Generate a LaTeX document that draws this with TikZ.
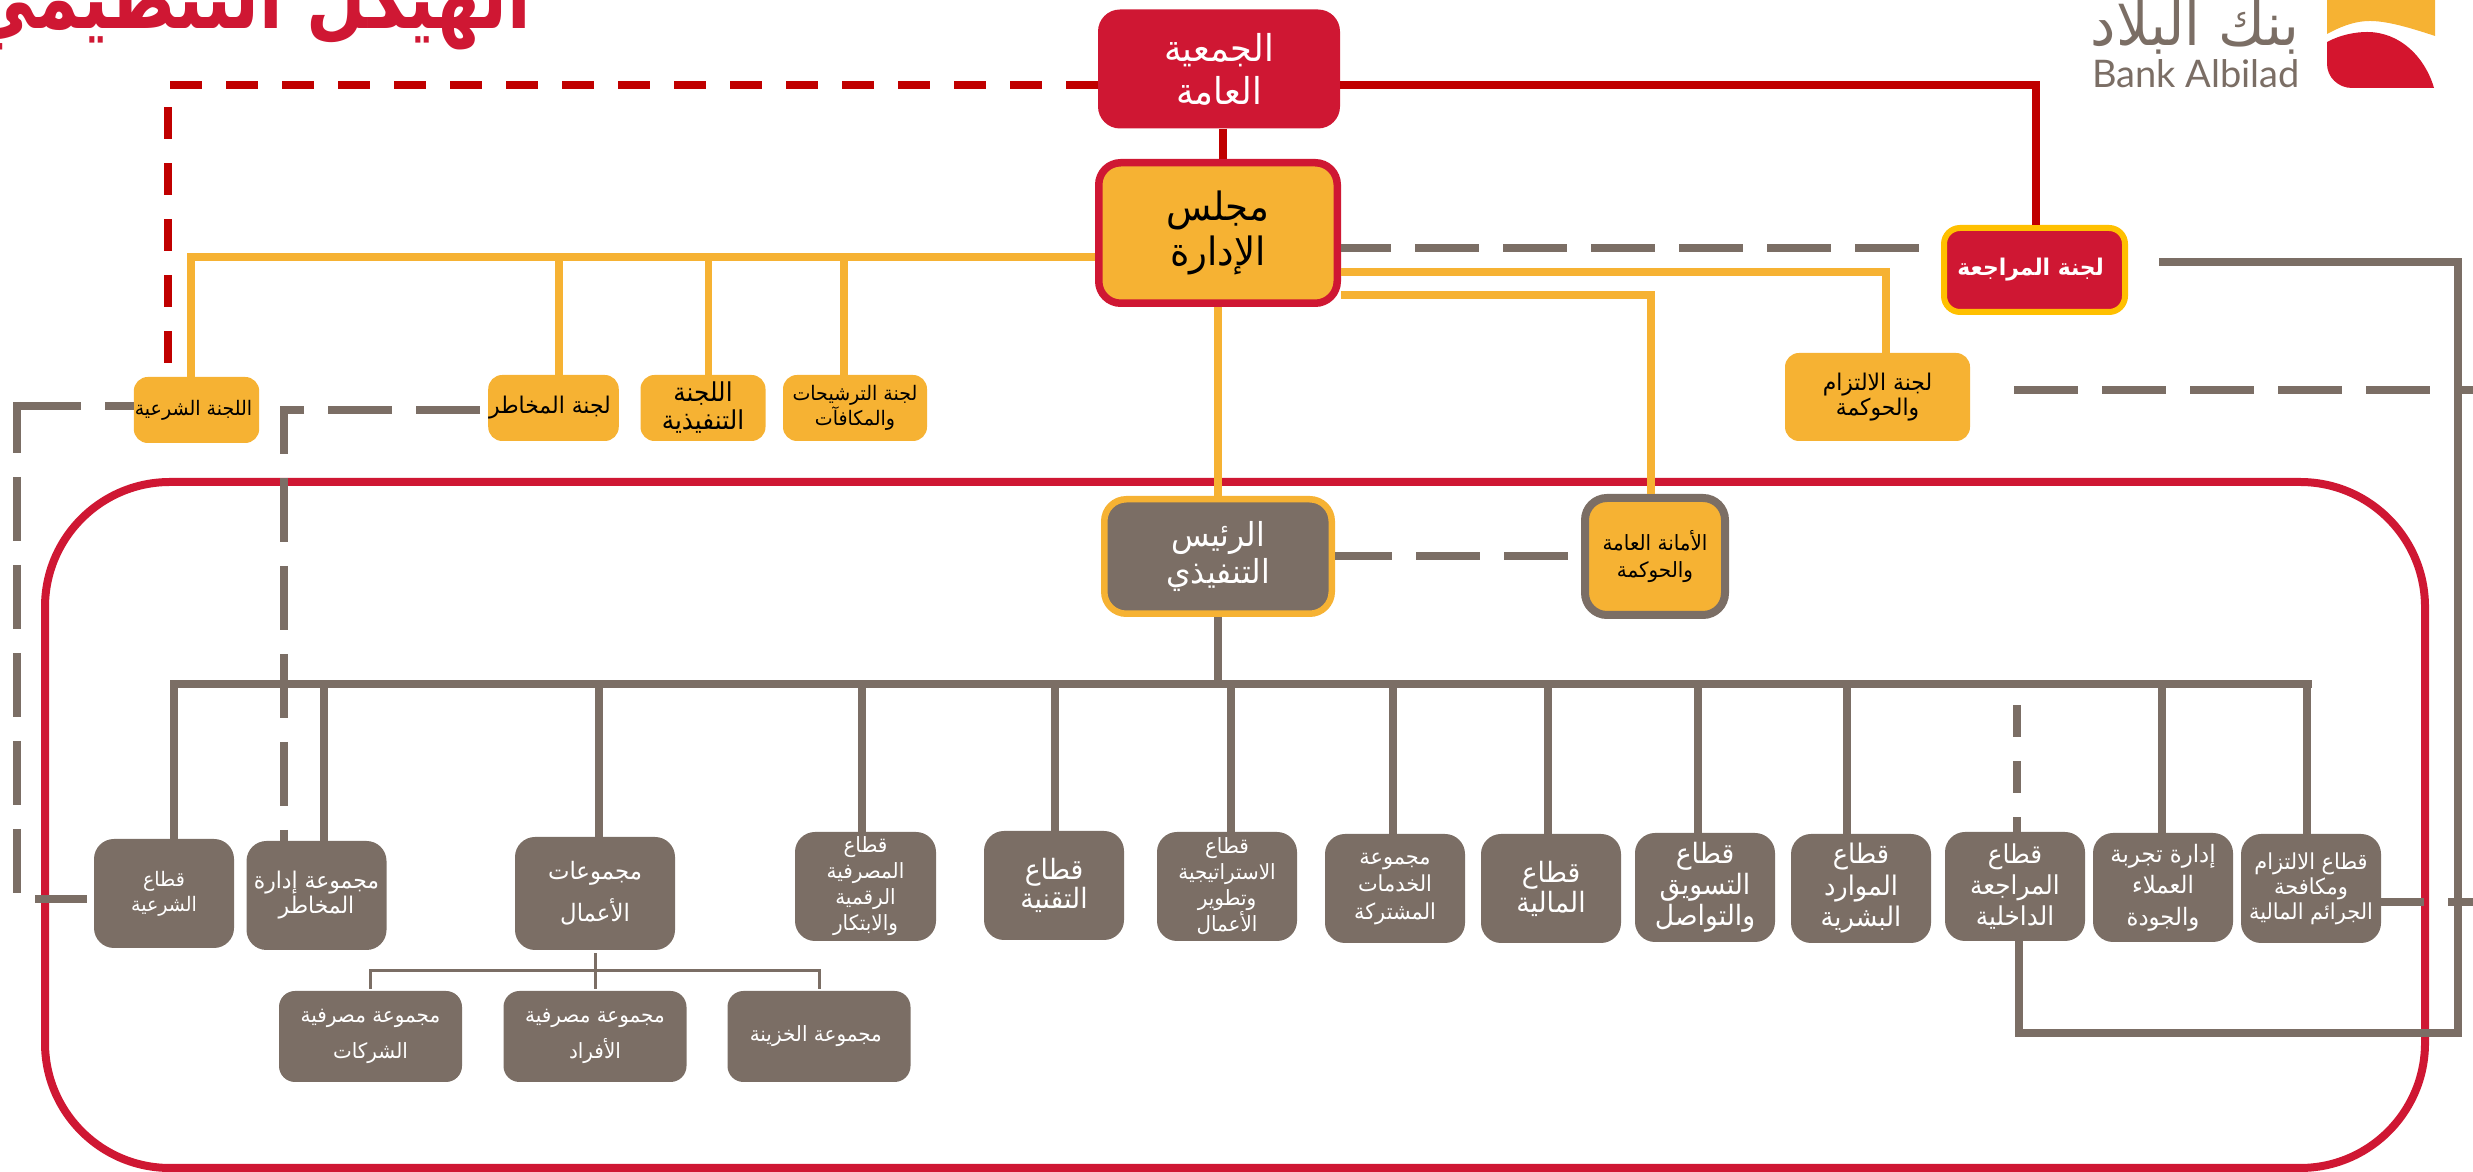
\documentclass[tikz,border=0pt]{standalone}
\usepackage{fontspec}
\setmainfont{Lato}
\newfontfamily\arabicfont[Script=Arabic,FakeStretch=0.95]{DejaVu Sans}
\newfontfamily\titlefont[Script=Arabic,FakeStretch=0.78]{DejaVu Sans}
\TeXXeTstate=1
\usetikzlibrary{positioning,calc}
\definecolor{bankgrey}{HTML}{7B6E65}
\definecolor{bankyellow}{HTML}{F6B233}
\definecolor{bankred}{HTML}{CF1733}
\definecolor{linered}{HTML}{C00000}
\definecolor{auditgold}{HTML}{FFC000}
\newcommand{\artext}[1]{\beginR #1\endR}
\newcommand{\arsize}[2]{\fontsize{#1}{#2}\arabicfont}
\tikzset{
    redstate/.style={
           rectangle,
           rounded corners=22pt,
           fill=bankred,
           text=white,
           inner sep=2pt,
           text centered,
           align=center,
           },
    boardstate/.style={
           rectangle,
           rounded corners=22pt,
           fill=bankyellow,
           draw=bankred,
           line width=7.5pt,
           inner sep=2pt,
           align=center,
           },
    auditstate/.style={
           rectangle,
           rounded corners=16pt,
           fill=bankred,
           draw=auditgold,
           line width=6pt,
           text=white,
           inner sep=2pt,
           align=center,
           },
    ceostate/.style={
           rectangle,
           rounded corners=22pt,
           fill=bankgrey,
           draw=bankyellow,
           line width=6.5pt,
           text=white,
           inner sep=2pt,
           align=center,
           },
    govstate/.style={
           rectangle,
           rounded corners=22pt,
           fill=bankyellow,
           draw=bankgrey,
           line width=8pt,
           inner sep=2pt,
           align=center,
           },
    comstate/.style={
           rectangle,
           rounded corners=14pt,
           fill=bankyellow,
           minimum height=66pt,
           minimum width=125pt,
           inner sep=1pt,
           align=center,
           },
    secstate/.style={
           rectangle,
           rounded corners=20pt,
           fill=bankgrey,
           text=white,
           minimum height=109pt,
           minimum width=140pt,
           inner sep=1pt,
           align=center,
           },
    substate/.style={
           rectangle,
           rounded corners=16pt,
           fill=bankgrey,
           text=white,
           minimum height=91pt,
           minimum width=183pt,
           inner sep=1pt,
           align=center,
           },
    greyline/.style={draw=bankgrey, line width=8pt},
    thinline/.style={draw=bankgrey, line width=3pt},
    yellowline/.style={draw=bankyellow, line width=7.5pt},
    redline/.style={draw=linered, line width=8pt},
    greydash/.style={greyline, dash pattern=on 64pt off 24pt},
}

\begin{document}
\begin{tikzpicture}[x=1pt,y=1pt]

 \useasboundingbox (0,0) rectangle (2473,1172);

 % Outer frame
 \node[draw=bankred, line width=8pt, rounded corners=125pt,
 minimum width=2380pt, minimum height=686pt,
 inner sep=0pt, outer sep=0pt] (FRAME) at (1235,347) {};

 % Title
 \node[anchor=base east, text=bankred, inner sep=0pt,
 font=\fontsize{88}{88}\titlefont\bfseries] (TITLE) at (531,1143)
 {\artext{الهيكل التنظيمي}};

 % Logo
 \fill[bankyellow] (2327,1172) -- (2435,1172) -- (2435,1136)
 .. controls (2405,1146) and (2385,1151) .. (2370,1151)
 .. controls (2353,1151) and (2338,1144) .. (2327,1138) -- cycle;
 \fill[bankred!90!red] (2327,1130) .. controls (2340,1137) and (2355,1140) .. (2367,1140)
 .. controls (2400,1140) and (2425,1115) .. (2434,1084) -- (2352,1084)
 .. controls (2338,1084) and (2327,1095) .. (2327,1108) -- cycle;
 \node[anchor=base east, text=bankgrey, inner sep=0pt,
 font=\fontsize{38}{38}\selectfont] (LOGOEN) at (2300,1084) {Bank Albilad};
 \node[anchor=base east, text=bankgrey, inner sep=0pt,
 font=\fontsize{60}{60}\arabicfont] (LOGOAR) at (2300,1126) {\artext{بنك البلاد}};

 % General assembly and board
 \node[redstate,
 minimum width=242pt, minimum height=119pt,
 font=\arsize{37}{43}] (GA) at (1219,1103)
 {%
 \artext{الجمعية}\\\artext{العامة}
 };

 \node[boardstate,
 below of=GA,
 xshift=-1pt,
 node distance=164pt,
 minimum width=238.5pt, minimum height=140.5pt,
 font=\arsize{39}{45}] (BOARD)
 {%
 \artext{مجلس}\\\artext{الإدارة}
 };

 % Next node: CEO
 \node[ceostate,
 below of=BOARD,
 node distance=323.5pt,
 minimum width=227.5pt, minimum height=114.5pt,
 font=\arsize{33}{37}] (CEO)
 {%
 \artext{الرئيس}\\\artext{التنفيذي}
 };

 \node[govstate,
 right of=CEO,
 node distance=437pt,
 minimum width=140pt, minimum height=117pt,
 font=\arsize{21}{27}] (GOV)
 {%
 \artext{الأمانة العامة}\\\artext{والحوكمة}
 };

 % Committees right of the board
 \node[auditstate,
 right of=BOARD,
 node distance=816.5pt,
 yshift=-37pt,
 minimum width=181pt, minimum height=84pt,
 font=\arsize{23}{30}\bfseries] (AUDIT)
 {%
 \artext{لجنة المراجعة}
 };

 \node[comstate,
 below of=AUDIT,
 xshift=-157pt,
 node distance=127pt,
 minimum width=185pt, minimum height=88pt,
 font=\arsize{23}{25}] (COMPLIANCE)
 {%
 \artext{لجنة الالتزام}\\\artext{والحوكمة}
 };

 % Committees left of the board
 \node[comstate,
 left of=BOARD,
 node distance=363pt,
 yshift=-175pt,
 minimum width=144pt,
 font=\arsize{20}{25}] (NOM)
 {%
 \artext{لجنة الترشيحات}\\\artext{والمكافآت}
 };

 \node[comstate,
 left of=NOM,
 node distance=152pt,
 font=\arsize{26}{28}] (EXEC)
 {%
 \artext{اللجنة}\\\artext{التنفيذية}
 };

 \node[comstate,
 left of=EXEC,
 node distance=149.5pt,
 font=\arsize{23}{30}] (RISK)
 {%
 \artext{لجنة المخاطر}
 };

 \node[comstate,
 left of=RISK,
 node distance=357pt,
 yshift=-2pt,
 font=\arsize{20}{26}] (SHARIA)
 {%
 \artext{اللجنة الشرعية}
 };

 % Sectors, from left to right
 \node[secstate,
 font=\arsize{20}{25}] (SECSHARIA) at (164,278.5)
 {%
 \artext{قطاع}\\\artext{الشرعية}
 };

 \node[secstate,
 right of=SECSHARIA,
 node distance=152.5pt,
 yshift=-2pt,
 font=\arsize{23}{25}] (SECRISK)
 {%
 \artext{مجموعة إدارة}\\\artext{المخاطر}
 };

 \node[secstate,
 right of=SECRISK,
 node distance=278.5pt,
 yshift=2pt,
 minimum width=160pt, minimum height=113pt,
 font=\arsize{24}{42}] (BUSINESS)
 {%
 \artext{مجموعات}\\\artext{الأعمال}
 };

 \node[secstate,
 right of=BUSINESS,
 node distance=270.5pt,
 yshift=7pt,
 minimum width=141pt,
 font=\arsize{21}{26}] (DIGITAL)
 {%
 \artext{قطاع}\\\artext{المصرفية}\\\artext{الرقمية}\\\artext{والابتكار}
 };

 \node[secstate,
 right of=DIGITAL,
 node distance=188.5pt,
 yshift=1pt,
 font=\arsize{28}{28}] (TECH)
 {%
 \artext{قطاع}\\\artext{التقنية}
 };

 \node[secstate,
 right of=TECH,
 node distance=173pt,
 yshift=-1pt,
 font=\arsize{21}{26}] (STRAT)
 {%
 \artext{قطاع}\\\artext{الاستراتيجية}\\\artext{وتطوير}\\\artext{الأعمال}
 };

 \node[secstate,
 right of=STRAT,
 node distance=168pt,
 yshift=-2pt,
 font=\arsize{22}{27.5}] (SHARED)
 {%
 \artext{مجموعة}\\\artext{الخدمات}\\\artext{المشتركة}
 };

 \node[secstate,
 right of=SHARED,
 node distance=156pt,
 font=\arsize{28}{30}] (FIN)
 {%
 \artext{قطاع}\\\artext{المالية}
 };

 \node[secstate,
 right of=FIN,
 node distance=154pt,
 yshift=1pt,
 font=\arsize{28}{31}] (MKT)
 {%
 \artext{قطاع}\\\artext{التسويق}\\\artext{والتواصل}
 };

 \node[secstate,
 right of=MKT,
 node distance=156pt,
 yshift=-1pt,
 font=\arsize{27}{31.5}] (HR)
 {%
 \artext{قطاع}\\\artext{الموارد}\\\artext{البشرية}
 };

 \node[secstate,
 right of=HR,
 node distance=154pt,
 yshift=2pt,
 font=\arsize{26}{31}] (SECAUDIT)
 {%
 \artext{قطاع}\\\artext{المراجعة}\\\artext{الداخلية}
 };

 \node[secstate,
 right of=SECAUDIT,
 node distance=148pt,
 yshift=-1pt,
 font=\arsize{24}{31.5}] (CX)
 {%
 \artext{إدارة تجربة}\\\artext{العملاء}\\\artext{والجودة}
 };

 \node[secstate,
 right of=CX,
 node distance=148pt,
 yshift=-1pt,
 font=\arsize{22}{25}] (SECCOMP)
 {%
 \artext{قطاع الالتزام}\\\artext{ومكافحة}\\\artext{الجرائم المالية}
 };

 % Groups below the business node
 \node[substate,
 below of=BUSINESS,
 node distance=143pt,
 font=\arsize{21}{36}] (RETAIL)
 {%
 \artext{مجموعة مصرفية}\\\artext{الأفراد}
 };

 \node[substate,
 left of=RETAIL,
 node distance=224.5pt,
 font=\arsize{21}{36}] (CORP)
 {%
 \artext{مجموعة مصرفية}\\\artext{الشركات}
 };

 \node[substate,
 right of=RETAIL,
 node distance=224pt,
 font=\arsize{21}{36}] (TREASURY)
 {%
 \artext{مجموعة الخزينة}
 };

 % Free ends and corners
 \coordinate (BUSLEFT) at (174,488);
 \coordinate (BUSRIGHT) at (2308,488);
 \coordinate (COMBUS) at (0,915);
 \coordinate (SUBBUS) at (595,201);
 \coordinate (LEFTMID) at (17,766);
 \coordinate (LEFTTOP) at (17,770);
 \coordinate (LEFTBOT) at (17,273);
 \coordinate (RIGHTBOT) at (2458,139);
 \coordinate (EDGEA) at (2473,782);
 \coordinate (EDGEB) at (2473,270);

 % draw the paths from the top down
 \coordinate (GADROP) at ($(GA.south)+(3.5,0)$);
 \draw[redline] (GADROP) -- (GADROP |- BOARD.north);
 \draw[redline] ($(GA.east)+(0,-16)$) -| ($(AUDIT.north)+(1.5,0)$);
 \draw[redline, dash pattern=on 32pt off 24pt]
 ($(GA.west)+(0,-16)$) -| ($(SHARIA.north)+(-28.5,0)$);

 \draw[yellowline] ($(BOARD.west)+(0,-24)$) -| ($(SHARIA.north)+(-5.5,0)$);
 \foreach \comname/\comdx in {RISK/5.5,EXEC/5.5,NOM/-11}
 {
 \coordinate (COMTOP) at ($(\comname.north)+(\comdx,0)$);
 \draw[yellowline] (COMTOP |- COMBUS) -- (COMTOP);
 }
 \draw[yellowline] ($(BOARD.east)+(0,-39)$) -| ($(COMPLIANCE.north)+(8.5,0)$);
 \draw[yellowline] ($(BOARD.east)+(0,-62)$) -| ($(GOV.north)+(-4,0)$);
 \path (BOARD) edge[yellowline] (CEO);

 \draw[greydash, dash phase=14pt] ($(BOARD.east)+(0,-15)$) -- ($(AUDIT.west)+(0,22)$);
 \draw[greydash, shorten <=44pt] ($(COMPLIANCE.east)+(0,7)$) -- (EDGEA);
 \draw[greydash, dash phase=7pt] (CEO) -- (GOV);
 \draw[greyline, shorten <=31pt] ($(AUDIT.east)+(0,8)$) -| (RIGHTBOT) -| ($(SECAUDIT.south)+(4,0)$);
 \draw[greydash, dash phase=21pt] ($(SECCOMP.east)+(0,-13.5)$) -- (EDGEB);

 % Dashed lines on the left side
 \draw[greydash, dash phase=35pt] ($(SHARIA.west)+(0,4)$) -- (LEFTMID);
 \draw[greydash, dash phase=13pt, shorten >=7pt] (LEFTTOP) -- (LEFTBOT) -- ($(SECSHARIA.west)+(0,-5.5)$);
 \draw[greydash, dash phase=80pt] ($(RISK.west)+(0,-2)$) -| ($(SECRISK.north)+(-32.5,0)$);

 % Bus below the CEO
 \draw[greyline] (CEO) -- (CEO |- BUSLEFT);
 \draw[greyline, line cap=rect] (BUSLEFT) -- (BUSRIGHT);
 \foreach \secname/\secdx in {SECSHARIA/10,SECRISK/7.5,BUSINESS/4,DIGITAL/-3.5,TECH/1,STRAT/3.5,SHARED/-2.5,FIN/-3,MKT/-7,HR/-14,CX/-1,SECCOMP/-4}
 {
 \coordinate (SECTOP) at ($(\secname.north)+(\secdx,0)$);
 \draw[greyline] (SECTOP |- BUSLEFT) -- (SECTOP);
 }
 \coordinate (AUDITTOP) at ($(SECAUDIT.north)+(2,0)$);
 \draw[greyline, dash pattern=on 32pt off 24pt, dash phase=17pt] (AUDITTOP) -- (AUDITTOP |- BUSLEFT);

 % Thin lines to the groups
 \draw[thinline, shorten <=3pt, shorten >=2pt] (BUSINESS) -- (RETAIL);
 \draw[thinline, shorten <=2pt, shorten >=2pt] (CORP.north) |- (SUBBUS) -| (TREASURY.north);

\end{tikzpicture}
\end{document}
